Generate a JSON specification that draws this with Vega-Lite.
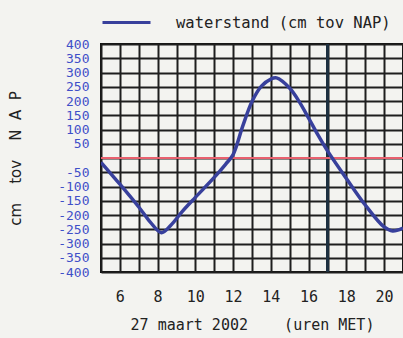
{
  "$schema": "https://vega.github.io/schema/vega-lite/v6.json",
  "width": 302,
  "height": 228,
  "autosize": {"type": "none"},
  "padding": {"left": 101, "top": 44, "right": 0, "bottom": 66},
  "background": "#f3f3f0",
  "config": {
    "view": {"stroke": "#111", "strokeWidth": 2},
    "font": "DejaVu Sans Mono",
    "axisX": {
      "grid": true, "gridColor": "#1e1e1e", "gridWidth": 2, "gridOpacity": 1,
      "domain": false, "ticks": false, "labelFontSize": 15, "labelColor": "#222",
      "labelPadding": 17, "labelFlush": false, "labelOverlap": false,
      "titleFontSize": 15, "titleFontWeight": "normal", "titleColor": "#222", "titlePadding": 13
    },
    "axisY": {
      "grid": true, "gridColor": "#1e1e1e", "gridWidth": 2, "gridOpacity": 1,
      "domain": false, "ticks": false, "labelOverlap": false, "labelFontSize": 13,
      "labelColor": "#3f4fc8", "labelPadding": 12, "labelFlush": false,
      "titleFontSize": 15, "titleFont": "DejaVu Sans", "titleFontWeight": "normal",
      "titleColor": "#222", "titlePadding": 34
    }
  },
  "data": {
    "values": [
      {"uur": 5, "cm": -15, "serie": "waterstand (cm tov NAP)"},
      {"uur": 6, "cm": -92, "serie": "waterstand (cm tov NAP)"},
      {"uur": 7, "cm": -172, "serie": "waterstand (cm tov NAP)"},
      {"uur": 7.6, "cm": -224, "serie": "waterstand (cm tov NAP)"},
      {"uur": 8.2, "cm": -262, "serie": "waterstand (cm tov NAP)"},
      {"uur": 8.7, "cm": -236, "serie": "waterstand (cm tov NAP)"},
      {"uur": 9.3, "cm": -188, "serie": "waterstand (cm tov NAP)"},
      {"uur": 10, "cm": -138, "serie": "waterstand (cm tov NAP)"},
      {"uur": 11, "cm": -68, "serie": "waterstand (cm tov NAP)"},
      {"uur": 11.6, "cm": -22, "serie": "waterstand (cm tov NAP)"},
      {"uur": 12, "cm": 12, "serie": "waterstand (cm tov NAP)"},
      {"uur": 12.5, "cm": 110, "serie": "waterstand (cm tov NAP)"},
      {"uur": 13, "cm": 198, "serie": "waterstand (cm tov NAP)"},
      {"uur": 13.5, "cm": 252, "serie": "waterstand (cm tov NAP)"},
      {"uur": 14, "cm": 277, "serie": "waterstand (cm tov NAP)"},
      {"uur": 14.3, "cm": 281, "serie": "waterstand (cm tov NAP)"},
      {"uur": 15, "cm": 245, "serie": "waterstand (cm tov NAP)"},
      {"uur": 15.5, "cm": 198, "serie": "waterstand (cm tov NAP)"},
      {"uur": 16, "cm": 140, "serie": "waterstand (cm tov NAP)"},
      {"uur": 16.5, "cm": 80, "serie": "waterstand (cm tov NAP)"},
      {"uur": 17, "cm": 25, "serie": "waterstand (cm tov NAP)"},
      {"uur": 18, "cm": -72, "serie": "waterstand (cm tov NAP)"},
      {"uur": 19, "cm": -165, "serie": "waterstand (cm tov NAP)"},
      {"uur": 20, "cm": -242, "serie": "waterstand (cm tov NAP)"},
      {"uur": 20.45, "cm": -256, "serie": "waterstand (cm tov NAP)"},
      {"uur": 21, "cm": -246, "serie": "waterstand (cm tov NAP)"}
    ]
  },
  "layer": [
    {
      "mark": {"type": "rule", "color": "#1e3040", "strokeWidth": 2.4},
      "encoding": {
        "x": {
          "datum": 17,
          "type": "quantitative",
          "scale": {"domain": [5, 21], "nice": false, "zero": false},
          "axis": {
            "values": [5, 6, 7, 8, 9, 10, 11, 12, 13, 14, 15, 16, 17, 18, 19, 20, 21],
            "labelExpr": "(datum.value % 2 == 0 && datum.value >= 6 && datum.value <= 20) ? datum.value : ''",
            "title": "27 maart 2002\u00a0\u00a0\u00a0\u00a0(uren MET)"
          }
        }
      }
    },
    {
      "mark": {"type": "rule", "color": "#e8606e", "strokeWidth": 2},
      "encoding": {
        "y": {
          "datum": 0,
          "type": "quantitative",
          "scale": {"domain": [-400, 400], "nice": false},
          "axis": {
            "values": [-400, -350, -300, -250, -200, -150, -100, -50, 0, 50, 100, 150, 200, 250, 300, 350, 400],
            "labelExpr": "datum.value == 0 ? '' : datum.value",
            "title": "cm\u00a0\u00a0\u00a0\u00a0tov\u00a0\u00a0\u00a0\u00a0N\u00a0\u00a0A\u00a0\u00a0P"
          }
        }
      }
    },
    {
      "mark": {"type": "line", "interpolate": "catmull-rom", "strokeWidth": 3.5, "clip": true},
      "encoding": {
        "x": {
          "field": "uur",
          "type": "quantitative",
          "axis": {
            "values": [5, 6, 7, 8, 9, 10, 11, 12, 13, 14, 15, 16, 17, 18, 19, 20, 21],
            "labelExpr": "(datum.value % 2 == 0 && datum.value >= 6 && datum.value <= 20) ? datum.value : ''",
            "title": "27 maart 2002\u00a0\u00a0\u00a0\u00a0(uren MET)"
          }
        },
        "y": {
          "field": "cm",
          "type": "quantitative",
          "axis": {
            "values": [-400, -350, -300, -250, -200, -150, -100, -50, 0, 50, 100, 150, 200, 250, 300, 350, 400],
            "labelExpr": "datum.value == 0 ? '' : datum.value",
            "title": "cm\u00a0\u00a0\u00a0\u00a0tov\u00a0\u00a0\u00a0\u00a0N\u00a0\u00a0A\u00a0\u00a0P"
          }
        },
        "color": {
          "field": "serie",
          "type": "nominal",
          "scale": {"range": ["#38409c"]},
          "legend": {
            "title": null,
            "orient": "none",
            "legendX": 0,
            "legendY": -47,
            "symbolType": "stroke",
            "symbolSize": 2304,
            "symbolStrokeWidth": 3,
            "labelFontSize": 15.5,
            "labelLimit": 320,
            "labelColor": "#222",
            "labelOffset": 24
          }
        }
      }
    }
  ]
}
